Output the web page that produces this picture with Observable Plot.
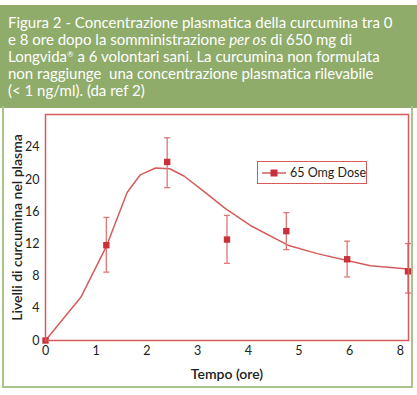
<!DOCTYPE html>
<html>
<head>
<meta charset="utf-8">
<script src="https://cdn.jsdelivr.net/npm/d3@7"></script>
<script src="https://cdn.jsdelivr.net/npm/@observablehq/plot@0.6"></script>
<style>
  html, body { margin: 0; padding: 0; background: #fff; }
  #page { position: relative; width: 417px; height: 395px; overflow: hidden; font-family: Lato, "Open Sans", sans-serif; }
  #header { position: absolute; left: 0; top: 5px; width: 417px; height: 103px; background: #8fac6a; color: #fff;
            font-size: 15px; line-height: 17px; box-sizing: border-box; padding: 9px 0 0 8px; white-space: nowrap; }
  #header sup { font-size: 8px; vertical-align: 5px; line-height: 0; }
  #border { position: absolute; left: 2px; top: 106px; width: 407px; height: 280px; border: 2px solid #a9c48a; border-top: none; }
  #chart { position: absolute; left: 0; top: 108px; }
  #legend { position: absolute; left: 257px; top: 161px; width: 108px; height: 21px; border: 1px solid #d65c5c; background: #fff;
            font-size: 12.5px; color: #222; display: flex; align-items: center; white-space: nowrap; box-sizing: content-box; }
  #legend svg { margin-left: 4px; margin-right: 4px; flex: none; }
</style>
</head>
<body>
<div id="page">
  <div id="header">Figura 2 - Concentrazione plasmatica della curcumina tra 0<br>e 8 ore dopo la somministrazione <i>per os</i> di 650 mg di<br>Longvida<sup>®</sup> a 6 volontari sani. La curcumina non formulata<br>non raggiunge&nbsp; una concentrazione plasmatica rilevabile<br>(&lt; 1 ng/ml). (da ref 2)</div>
  <div id="border"></div>
  <div id="chart"></div>
  <div id="legend"><svg width="24" height="10"><line x1="0" y1="5" x2="24" y2="5" stroke="#d65c5c" stroke-width="1.5"/><rect x="8.5" y="1.5" width="7" height="7" fill="#c8313a"/></svg><span>65 Omg Dose</span></div>
</div>
<script>
// Measured sample times (axis position units) and plasma levels
const timeX  = [0, 1.2, 2.4, 3.58, 4.75, 5.95, 7.15];
const meanY  = [0, 11.85, 22.2, 12.55, 13.6, 10.1, 8.6];
const lowY   = [0, 8.5, 19.0, 9.6, 11.3, 7.9, 5.9];
const highY  = [0, 15.3, 25.2, 15.55, 15.9, 12.35, 12.05];

// Fitted curve
const curveX = [0, 0.7, 1.2, 1.61, 1.87, 2.17, 2.45, 2.73, 3.06, 3.55, 4.04, 4.8, 5.36, 5.95, 6.41, 7.15];
const curveY = [0, 5.4, 11.7, 18.4, 20.6, 21.45, 21.35, 20.45, 18.85, 16.4, 14.3, 11.8, 10.8, 9.95, 9.3, 8.9];

// Axis ticks
const xTicks = [0, 1, 2, 3, 4, 5, 6, 7];
const xTickLabels = ["0", "1", "2", "3", "4", "5", "6", "8"];
const yTicks = [0, 4, 8, 12, 16, 20, 24];

const points = timeX.map((x, i) => ({x, y: meanY[i], lo: lowY[i], hi: highY[i]}));
const bars = points.filter(d => d.hi > d.lo);
const curve = curveX.map((x, i) => ({x, y: curveY[i]}));

const capSymbol = {
  draw(ctx, size) {
    const r = Math.sqrt(size / Math.PI);
    ctx.moveTo(-r, 0);
    ctx.lineTo(r, 0);
  }
};

const red = "#d65c5c";
const chart = Plot.plot({
  width: 417,
  height: 280,
  marginLeft: 45,
  marginRight: 9,
  marginTop: 6,
  marginBottom: 48,
  style: {fontFamily: "Lato, 'Open Sans', sans-serif", fontSize: "12px", color: "#222", background: "transparent"},
  x: {domain: [0, 7.16]},
  y: {domain: [0, 28.1]},
  marks: [
    Plot.axisX({ticks: xTicks, tickFormat: (d, i) => xTickLabels[i], tickSize: 0, tickPadding: 6,
      label: "Tempo (ore)", labelAnchor: "center", labelArrow: "none", labelOffset: 38, fontSize: 12.5}),
    Plot.axisY({ticks: yTicks, tickSize: 0, tickPadding: 6,
      label: "Livelli di curcumina nel plasma", labelAnchor: "center", labelArrow: "none", labelOffset: 33, fontSize: 12.5}),
    Plot.line(curve, {x: "x", y: "y", stroke: red, strokeWidth: 1.5}),
    Plot.ruleX(bars, {x: "x", y1: "lo", y2: "hi", stroke: "#de7676", strokeWidth: 1.3}),
    Plot.dot(bars, {x: "x", y: "lo", symbol: capSymbol, r: 3, stroke: "#de7676", strokeWidth: 1.3}),
    Plot.dot(bars, {x: "x", y: "hi", symbol: capSymbol, r: 3, stroke: "#de7676", strokeWidth: 1.3}),
    Plot.dot(points, {x: "x", y: "y", symbol: "square", r: 3.6, fill: "#c8313a", stroke: "none"}),
    Plot.frame({stroke: red, strokeWidth: 1.5})
  ]
});
document.getElementById("chart").appendChild(chart);
// Axis label styling
chart.querySelectorAll("g[aria-label='x-axis label'] text, g[aria-label='y-axis label'] text").forEach(t => {
  t.style.fontSize = "14px";
  t.style.fontWeight = "600";
});
</script>
</body>
</html>
